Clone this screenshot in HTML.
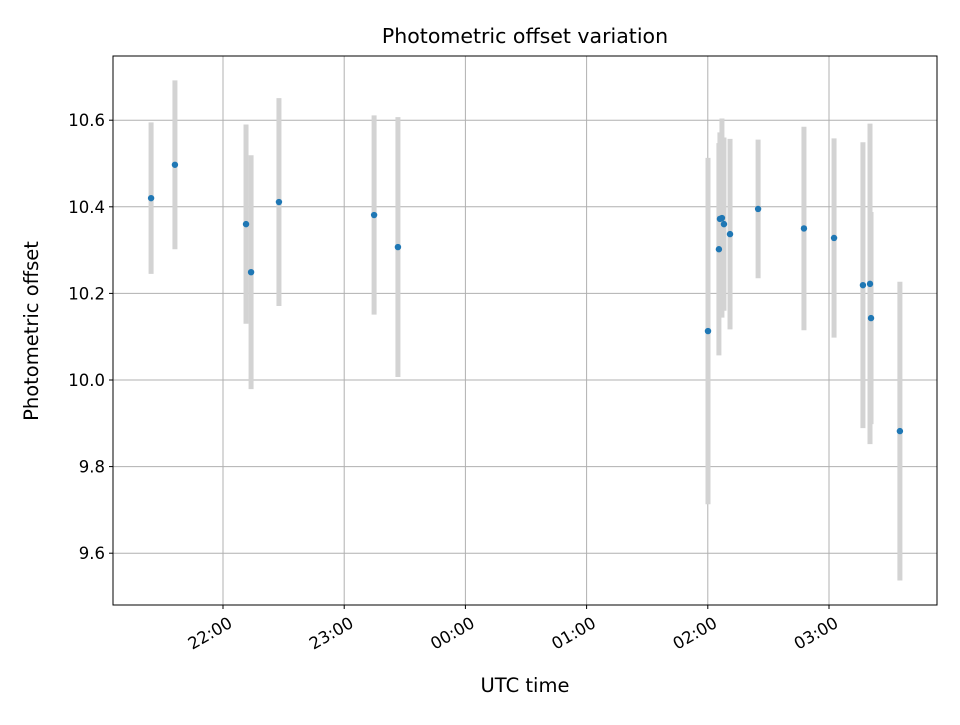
<!DOCTYPE html>
<html><head><meta charset="utf-8"><style>
body{margin:0;background:#fff;font-family:"Liberation Sans","DejaVu Sans",sans-serif}
svg text{font-family:"DejaVu Sans","Liberation Sans",sans-serif;fill:#000}
</style></head><body>
<svg id="chart" width="960" height="720" xmlns="http://www.w3.org/2000/svg">
<rect width="960" height="720" fill="#fff"/>
<g id="grid"></g><g id="bars"></g><g id="pts"></g><g id="axes"></g>
<text x="525" y="43" text-anchor="middle" font-size="20.5">Photometric offset variation</text>
<text x="525" y="692" text-anchor="middle" font-size="19.5">UTC time</text>
<text transform="translate(38,331) rotate(-90)" text-anchor="middle" font-size="19.5">Photometric offset</text>
</svg>
<script>
// minutes after 22:00 UTC
const times=[-35.6,-23.8,11.4,13.9,27.7,74.8,86.6,240.1,245.5,246.0,247.0,248.0,251.0,264.9,287.6,302.5,316.8,320.3,320.8,335.1];
const offsets=[10.42,10.497,10.36,10.249,10.411,10.381,10.307,10.113,10.302,10.372,10.374,10.36,10.337,10.395,10.35,10.328,10.219,10.222,10.143,9.882];
const errors=[0.175,0.195,0.23,0.27,0.24,0.23,0.30,0.40,0.245,0.20,0.23,0.20,0.22,0.16,0.235,0.23,0.33,0.37,0.245,0.345];
const xTickMinutes=[0,60,120,180,240,300];
const xTickLabels=["22:00","23:00","00:00","01:00","02:00","03:00"];
const yTicks=[9.6,9.8,10.0,10.2,10.4,10.6];
const yTickLabels=["9.6","9.8","10.0","10.2","10.4","10.6"];
const L=113,R=937,T=56,B=605;
const X=m=>223+m*121.2/60;
const Y=v=>380-(v-10)*433;
const NS="http://www.w3.org/2000/svg";
function mk(t,a,p){const e=document.createElementNS(NS,t);for(const k in a)e.setAttribute(k,a[k]);p.appendChild(e);return e;}
const grid=document.getElementById('grid'),bars=document.getElementById('bars'),pts=document.getElementById('pts'),axes=document.getElementById('axes');
xTickMinutes.forEach((m,i)=>{const x=X(m);
 const g=mk('line',{x1:x,x2:x,y1:T,y2:B,stroke:'#b0b0b0','stroke-width':1},grid);
 
 mk('line',{x1:x,x2:x,y1:B,y2:B+4,stroke:'#000'},axes);
 const ax=x+4,ay=B+10;
 const t=mk('text',{x:ax,y:ay+13,'font-size':16.5,'text-anchor':'end',transform:`rotate(-30 ${ax} ${ay})`},axes);
 t.textContent=xTickLabels[i];
 });
yTicks.forEach((v,i)=>{const y=Y(v);
 const g=mk('line',{x1:L,x2:R,y1:y,y2:y,stroke:'#b0b0b0','stroke-width':1},grid);
 
 mk('line',{x1:L-4,x2:L,y1:y,y2:y,stroke:'#000'},axes);
 const t=mk('text',{x:L-8,y:y+6,'font-size':16.5,'text-anchor':'end'},axes);
 t.textContent=yTickLabels[i];
 });
const fr=mk('rect',{x:L,y:T,width:R-L,height:B-T,fill:'none',stroke:'#000','stroke-width':1},axes);

times.forEach((m,i)=>{const x=X(m);
 const b=mk('line',{x1:x,x2:x,y1:Y(offsets[i]+errors[i]),y2:Y(offsets[i]-errors[i]),stroke:'#d3d3d3','stroke-width':5},bars);
 
 const c=mk('circle',{cx:x,cy:Y(offsets[i]),r:3.2,fill:'#1f77b4'},pts);
 });
</script>
</body></html>
